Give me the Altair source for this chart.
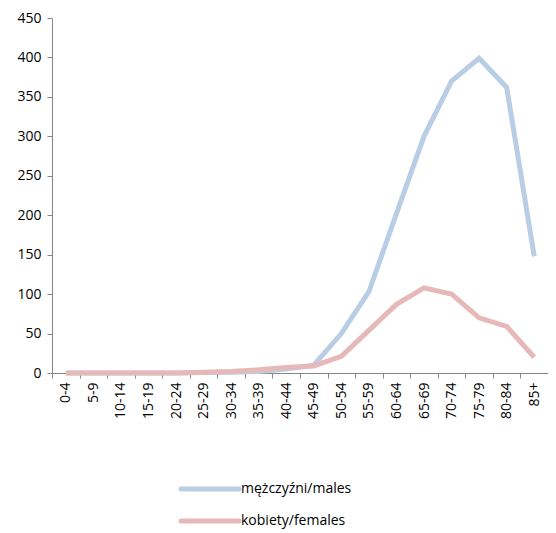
import altair as alt
import pandas as pd

ages = ["0-4", "5-9", "10-14", "15-19", "20-24", "25-29", "30-34", "35-39", "40-44",
        "45-49", "50-54", "55-59", "60-64", "65-69", "70-74", "75-79", "80-84", "85+"]
males = [0, 0, 0, 0, 0, 0.5, 1, 2, 5, 10, 50, 103, 202, 300, 370, 399, 362, 148]
females = [0, 0, 0, 0, 0, 1, 2, 4, 7, 9, 21, 54, 87, 108, 100, 70, 59, 20]
series = ["mężczyźni/males", "kobiety/females"]
colors = ["#B9CDE5", "#E6B9B8"]

rows = []
for i, a in enumerate(ages):
    rows.append({"age": a, "value": males[i], "series": series[0], "order": 0})
    rows.append({"age": a, "value": females[i], "series": series[1], "order": 1})
df = pd.DataFrame(rows)
legend_df = pd.DataFrame({"series": series})

font = "Open Sans"
color_scale = alt.Scale(domain=series, range=colors)

lines = alt.Chart(df).mark_line(strokeWidth=5, strokeJoin="miter", strokeCap="butt").encode(
    x=alt.X("age:N", sort=ages, title=None,
            scale=alt.Scale(type="band", paddingInner=0, paddingOuter=0),
            axis=alt.Axis(labelAngle=270, labelAlign="right", labelBaseline="middle",
                          tickBand="extent", grid=False, domainColor="#868686",
                          tickColor="#868686", tickSize=5, labelFont=font,
                          labelFontSize=14, labelColor="#000000", labelPadding=4)),
    y=alt.Y("value:Q", title=None,
            scale=alt.Scale(domain=[0, 450]),
            axis=alt.Axis(values=list(range(0, 451, 50)), grid=False,
                          domainColor="#868686", tickColor="#868686", tickSize=5,
                          labelFont=font, labelFontSize=14, labelColor="#000000",
                          labelPadding=6)),
    color=alt.Color("series:N", scale=color_scale, legend=None),
    order=alt.Order("order:Q"),
    detail="series:N",
)

leg_y = alt.Y("series:N", sort=series, axis=None, title=None,
              scale=alt.Scale(type="point", domain=series, range=[471, 503], padding=0))

leg_rule = alt.Chart(legend_df).mark_rule(strokeWidth=5, strokeCap="round").encode(
    x=alt.value(129), x2=alt.value(187), y=leg_y,
    color=alt.Color("series:N", scale=color_scale, legend=None),
)
leg_text = alt.Chart(legend_df).mark_text(align="left", baseline="middle", font=font,
                                           fontSize=14, color="#000000").encode(
    x=alt.value(189), y=leg_y, text="series:N",
)

chart = alt.layer(lines, leg_rule, leg_text).resolve_scale(y="independent").properties(
    width=496, height=355,
    autosize=alt.AutoSizeParams(type="none"),
    padding={"left": 44, "top": 10, "right": 0, "bottom": 160},
).configure(background="white").configure_view(stroke=None)

chart.save("out.html", embed_options={"renderer": "svg", "actions": False})
